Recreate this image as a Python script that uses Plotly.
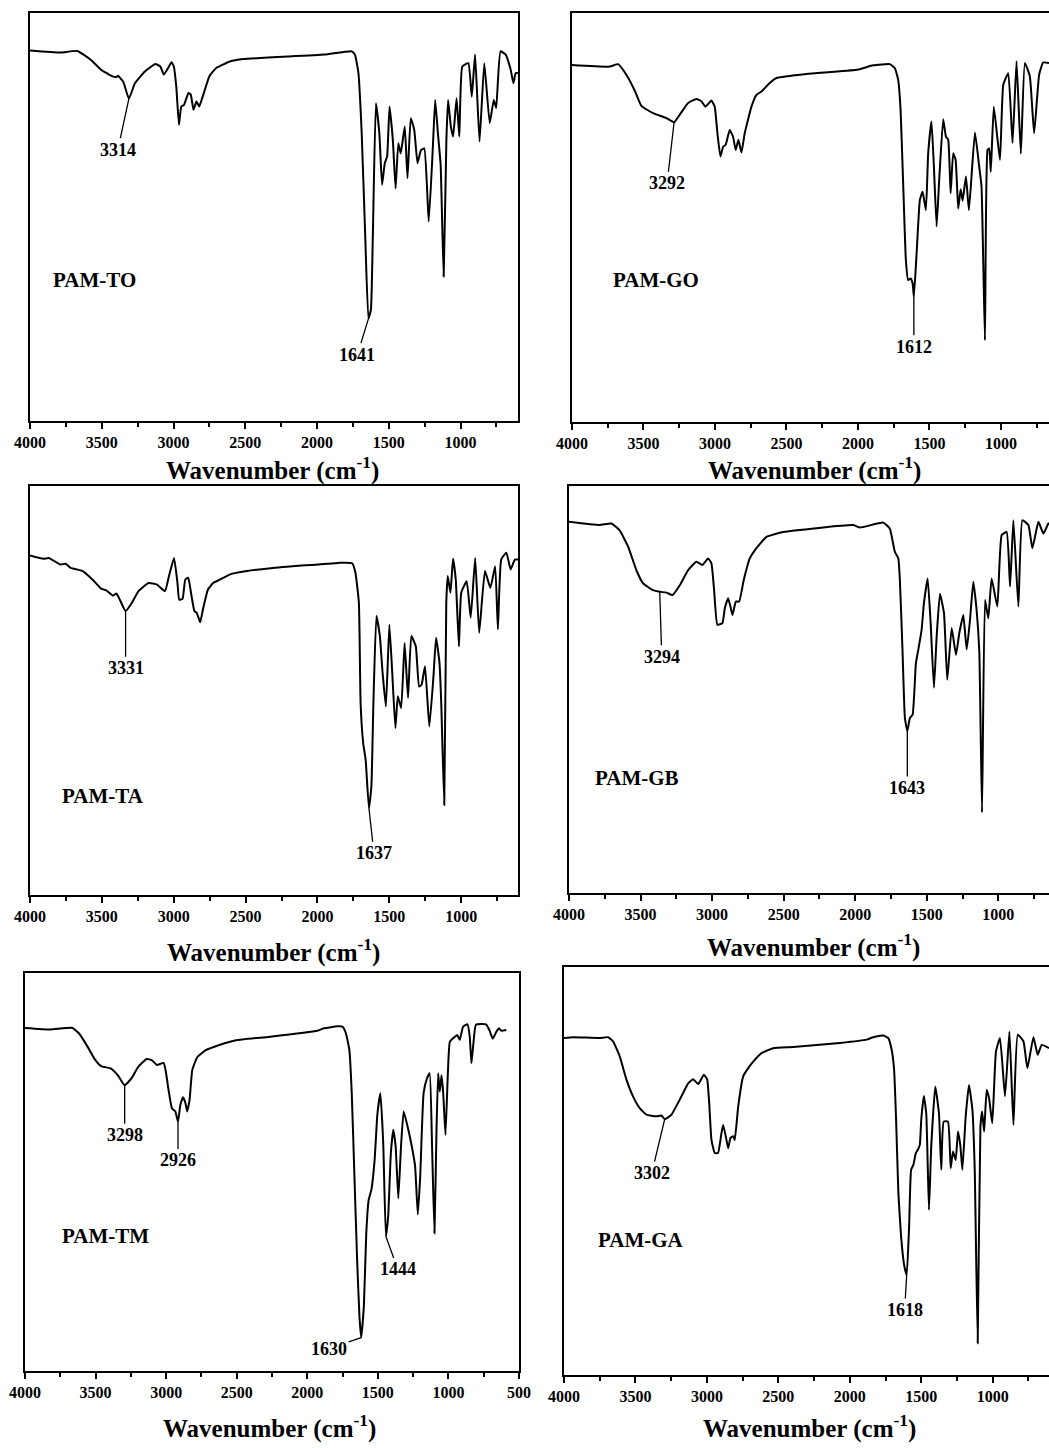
import numpy as np
import plotly.graph_objects as go

# ---------------- data ----------------
TO_wn = [4000, 3788, 3670, 3575, 3505, 3434, 3399, 3387, 3351, 3311, 3269, 3198, 3127, 3092, 3068, 3038, 3014, 2998,
         2981, 2962, 2946, 2927, 2896, 2880, 2861, 2840, 2821, 2797, 2750, 2703, 2608, 2514, 1948, 1759, 1736, 1712,
         1689, 1665, 1642, 1625, 1611, 1590, 1566, 1547, 1528, 1512, 1495, 1472, 1453, 1434, 1417, 1389, 1370, 1347,
         1323, 1300, 1276, 1253, 1222, 1193, 1177, 1158, 1139, 1118, 1099, 1087, 1068, 1052, 1028, 1009, 988, 946,
         922, 899, 868, 835, 797, 769, 752, 722, 686, 651, 632, 616, 600]
TO_T = [90.8, 90.3, 90.7, 88.5, 86.1, 84.6, 84.3, 84.6, 83.2, 79.0, 82.8, 85.7, 87.5, 86.9, 84.9, 86.5, 87.9, 86.9,
        82.0, 72.6, 77.1, 77.5, 80.4, 80.0, 76.3, 78.3, 77.1, 79.5, 84.5, 86.5, 88.1, 88.7, 89.8, 90.6, 89.8, 85.3,
        70.5, 46.0, 25.1, 27.2, 46.0, 77.9, 70.5, 57.9, 63.2, 64.8, 77.1, 68.9, 57.0, 68.1, 65.6, 72.2, 59.5, 74.2,
        71.4, 63.2, 66.4, 66.8, 48.9, 67.3, 78.7, 70.5, 62.8, 35.4, 68.9, 78.7, 72.2, 69.7, 79.1, 69.7, 86.9, 87.7,
        79.5, 89.8, 68.5, 87.7, 73.0, 78.7, 76.7, 90.6, 89.8, 86.1, 82.8, 85.3, 85.3]

GO_wn = [4000, 3736, 3678, 3620, 3561, 3515, 3433, 3340, 3286, 3247, 3188, 3130, 3095, 3067, 3025, 3002, 2983, 2962,
         2943, 2925, 2897, 2874, 2855, 2836, 2815, 2792, 2745, 2710, 2675, 2617, 2570, 2360, 2010, 1894, 1777, 1742,
         1719, 1702, 1684, 1665, 1649, 1632, 1618, 1609, 1590, 1567, 1548, 1525, 1509, 1486, 1469, 1450, 1432, 1404,
         1385, 1369, 1352, 1334, 1317, 1299, 1282, 1268, 1245, 1224, 1182, 1152, 1136, 1112, 1094, 1082, 1071, 1050,
         1007, 984, 949, 919, 891, 861, 833, 798, 768, 733, 705, 664]
GO_T = [87.3, 86.9, 87.5, 84.9, 81.0, 77.3, 75.5, 74.3, 73.3, 75.1, 78.0, 79.0, 78.4, 77.1, 78.6, 77.1, 70.6, 64.9,
        67.3, 67.8, 71.4, 69.8, 66.5, 69.0, 65.9, 70.6, 77.1, 80.0, 80.8, 82.9, 84.1, 85.1, 86.1, 87.2, 87.5, 86.5,
        83.7, 76.3, 58.4, 39.6, 34.7, 35.1, 33.9, 30.6, 41.2, 54.3, 56.3, 51.8, 65.7, 73.5, 62.4, 47.8, 59.2, 74.0,
        69.8, 69.0, 55.9, 65.7, 64.1, 52.2, 56.9, 54.1, 60.0, 51.8, 70.8, 62.4, 57.6, 20.0, 66.5, 66.9, 61.2, 77.1,
        64.1, 82.4, 85.3, 68.2, 88.2, 65.6, 87.8, 84.5, 70.6, 84.9, 87.9, 87.8]

TA_wn = [4000, 3906, 3870, 3788, 3752, 3717, 3634, 3564, 3505, 3469, 3422, 3399, 3375, 3335, 3292, 3245, 3175, 3116,
         3061, 3033, 2998, 2974, 2962, 2939, 2920, 2899, 2880, 2856, 2840, 2816, 2797, 2762, 2726, 2679, 2608, 2491,
         2325, 1854, 1759, 1736, 1712, 1700, 1682, 1665, 1642, 1625, 1611, 1590, 1566, 1547, 1524, 1500, 1481, 1458,
         1441, 1418, 1394, 1370, 1347, 1316, 1293, 1276, 1252, 1222, 1193, 1175, 1151, 1139, 1118, 1104, 1094, 1075,
         1057, 1038, 1016, 1000, 962, 934, 903, 875, 835, 797, 764, 745, 722, 686, 656, 627, 605]
TA_T = [83.0, 82.2, 82.4, 80.8, 81.0, 80.0, 79.2, 77.1, 74.9, 74.5, 73.2, 73.7, 72.2, 69.4, 71.4, 74.3, 76.3, 75.9,
        74.3, 78.0, 82.4, 76.3, 72.2, 72.4, 77.1, 77.6, 73.9, 69.4, 69.0, 66.7, 69.8, 74.7, 76.3, 77.1, 78.4, 79.2,
        79.9, 81.2, 81.1, 78.8, 71.4, 46.9, 37.1, 33.1, 21.2, 26.5, 46.9, 68.2, 63.3, 54.3, 46.1, 66.1, 55.1, 40.8,
        48.6, 45.7, 61.6, 48.2, 63.3, 60.8, 51.0, 51.4, 55.9, 41.2, 53.5, 62.9, 56.7, 46.9, 22.0, 71.4, 78.0, 73.9,
        82.2, 77.1, 60.8, 73.9, 76.7, 67.8, 82.4, 64.1, 79.2, 75.1, 80.4, 65.0, 82.0, 83.7, 79.6, 82.0, 82.0]

GB_wn = [4000, 3786, 3704, 3646, 3587, 3529, 3483, 3413, 3366, 3319, 3277, 3226, 3168, 3110, 3068, 3028, 3005, 2986,
         2963, 2928, 2911, 2888, 2872, 2858, 2834, 2811, 2779, 2737, 2702, 2620, 2503, 2014, 1967, 1804, 1758, 1723,
         1699, 1688, 1669, 1653, 1636, 1618, 1599, 1576, 1559, 1536, 1520, 1494, 1473, 1450, 1431, 1408, 1380, 1357,
         1326, 1296, 1273, 1245, 1221, 1198, 1175, 1152, 1133, 1114, 1093, 1070, 1047, 1007, 977, 942, 918, 895, 860,
         832, 790, 762, 720, 685, 650, 640]
GB_T = [91.2, 90.4, 90.8, 89.1, 85.1, 79.3, 76.1, 74.4, 74.0, 73.8, 73.2, 75.6, 79.3, 81.4, 80.6, 82.2, 81.0, 74.4,
        65.9, 66.3, 70.0, 72.4, 70.4, 68.3, 71.6, 71.6, 76.9, 82.2, 84.2, 87.5, 88.7, 90.4, 89.8, 91.0, 89.5, 83.8,
        82.2, 76.9, 58.9, 43.0, 39.8, 43.0, 43.8, 56.5, 59.8, 64.7, 71.2, 77.3, 66.3, 50.4, 63.0, 73.5, 68.8, 52.4,
        65.1, 58.5, 63.8, 68.3, 59.8, 67.1, 76.5, 69.6, 59.3, 19.8, 72.0, 67.5, 77.3, 70.4, 87.9, 88.7, 75.3, 91.6,
        70.4, 91.6, 90.4, 84.7, 91.2, 88.3, 90.8, 90.8]

TM_wn = [4000, 3820, 3665, 3617, 3557, 3509, 3461, 3390, 3342, 3294, 3246, 3198, 3138, 3102, 3066, 3018, 3002, 2983,
         2959, 2935, 2916, 2899, 2880, 2863, 2851, 2834, 2815, 2779, 2719, 2623, 2504, 2264, 1929, 1882, 1786, 1750,
         1726, 1702, 1685, 1666, 1647, 1630, 1618, 1599, 1582, 1565, 1546, 1523, 1503, 1482, 1462, 1443, 1427, 1408,
         1391, 1374, 1355, 1336, 1317, 1284, 1255, 1236, 1217, 1200, 1176, 1152, 1133, 1116, 1099, 1085, 1073, 1061,
         1049, 1037, 1021, 1004, 990, 961, 937, 920, 896, 865, 849, 837, 823, 805, 733, 709, 686, 661, 642, 626, 590]
TM_T = [86.2, 85.8, 86.2, 84.8, 81.5, 78.5, 76.6, 76.0, 74.3, 71.8, 73.5, 76.4, 78.4, 78.1, 76.9, 77.4, 75.2, 70.6,
        66.0, 65.2, 62.7, 66.9, 68.8, 67.3, 65.2, 68.1, 75.6, 78.9, 80.6, 81.9, 83.1, 84.0, 85.5, 86.1, 86.6, 86.5,
        84.8, 80.7, 69.8, 48.9, 28.0, 13.4, 8.4, 16.4, 34.7, 43.0, 45.5, 53.0, 64.7, 69.8, 57.3, 33.8, 38.8, 54.7,
        60.6, 56.4, 43.4, 56.4, 65.2, 60.6, 55.6, 51.4, 39.3, 48.9, 69.8, 73.5, 74.8, 56.4, 34.6, 59.7, 74.8, 70.2,
        74.3, 69.8, 59.3, 74.8, 82.7, 83.8, 84.4, 83.2, 86.5, 87.1, 84.0, 77.3, 82.3, 87.0, 87.1, 85.6, 83.5, 85.2,
        86.1, 85.5, 85.7]

GA_wn = [4000, 3937, 3750, 3692, 3657, 3610, 3563, 3517, 3470, 3423, 3353, 3318, 3295, 3248, 3190, 3131, 3096, 3061,
         3021, 2998, 2984, 2968, 2945, 2922, 2898, 2886, 2863, 2851, 2835, 2816, 2805, 2781, 2746, 2711, 2676, 2618,
         2536, 2396, 2069, 1882, 1836, 1766, 1731, 1707, 1690, 1676, 1660, 1641, 1620, 1602, 1585, 1571, 1555, 1538,
         1524, 1510, 1500, 1482, 1465, 1446, 1430, 1402, 1376, 1360, 1343, 1313, 1294, 1278, 1259, 1243, 1226, 1212,
         1189, 1166, 1142, 1126, 1105, 1086, 1074, 1060, 1042, 1024, 1003, 977, 949, 914, 883, 855, 825, 785, 757,
         715, 685, 657, 606]
GA_T = [82.6, 82.8, 82.6, 82.8, 81.8, 78.1, 72.4, 68.3, 65.4, 63.8, 63.4, 63.6, 62.7, 63.8, 67.5, 71.5, 72.5, 71.3,
        73.6, 72.4, 66.7, 57.6, 54.4, 54.4, 59.3, 61.3, 57.6, 55.6, 58.1, 58.5, 57.6, 65.8, 73.2, 75.2, 76.8, 78.9,
        80.1, 80.4, 81.4, 82.2, 82.8, 83.2, 82.6, 79.7, 74.8, 62.6, 44.6, 33.9, 27.0, 24.5, 36.3, 50.3, 51.5, 54.4,
        55.2, 56.4, 62.6, 68.4, 64.1, 40.5, 56.0, 70.7, 64.1, 50.3, 62.1, 62.1, 50.7, 54.8, 52.7, 59.7, 56.1, 50.3,
        63.4, 71.1, 65.0, 50.7, 7.8, 60.9, 64.6, 59.7, 69.9, 67.5, 61.7, 79.3, 82.6, 68.3, 84.2, 61.3, 83.4, 81.8,
        75.2, 82.8, 78.5, 80.9, 80.1]

# peak labels: text and the wavenumber where the leader line meets the curve
TO_peaks, TO_peak_at = ["3314", "1641"], [3311, 1642]
GO_peaks, GO_peak_at = ["3292", "1612"], [3286, 1609]
TA_peaks, TA_peak_at = ["3331", "1637"], [3335, 1642]
GB_peaks, GB_peak_at = ["3294", "1643"], [3366, 1636]
TM_peaks, TM_peak_at = ["3298", "2926", "1444", "1630"], [3294, 2916, 1443, 1618]
GA_peaks, GA_peak_at = ["3302", "1618"], [3295, 1602]

sample_names = ["PAM-TO", "PAM-GO", "PAM-TA", "PAM-GB", "PAM-TM", "PAM-GA"]
tick_values = [500, 1000, 1500, 2000, 2500, 3000, 3500, 4000]

# ---------------- layout ----------------
W, H = 1049, 1448
FONT = "Liberation Serif, Times New Roman, serif"

series = [
    (TO_wn, TO_T, TO_peaks, TO_peak_at),
    (GO_wn, GO_T, GO_peaks, GO_peak_at),
    (TA_wn, TA_T, TA_peaks, TA_peak_at),
    (GB_wn, GB_T, GB_peaks, GB_peak_at),
    (TM_wn, TM_T, TM_peaks, TM_peak_at),
    (GA_wn, GA_T, GA_peaks, GA_peak_at),
]

panels = [
    dict(l=30, r=518, t=13, b=421, xend=600, rb=True, title=(272, 469), lab=(3552, 34.5),
         offs=[(-11, 51), (-11, 36)]),
    dict(l=572, r=1049, t=13, b=422, xend=664, rb=False, title=(814, 469), lab=(3410, 34.7),
         offs=[(-7, 61), (0, 50)]),
    dict(l=30, r=518, t=486, b=895, xend=605, rb=True, title=(273, 951), lab=(3493, 24.2),
         offs=[(0, 57), (5, 45)]),
    dict(l=569, r=1049, t=486, b=893, xend=646, rb=False, title=(813, 945), lab=(3522, 28.3),
         offs=[(2, 65), (0, 57)]),
    dict(l=25, r=519, t=973, b=1371, xend=500, rb=True, title=(269, 1426), lab=(3430, 33.8),
         offs=[(0, 50), (0, 39), (12, 33), (-32, 11)]),
    dict(l=564, r=1049, t=967, b=1375, xend=606, rb=False, title=(809, 1426), lab=(3463, 33.1),
         offs=[(-13, 54), (-2, 35)]),
]

fig = go.Figure()
annotations = []
layout_axes = {}

for i, ((wn, T, peaks, peak_at), p, name) in enumerate(zip(series, panels, sample_names)):
    n = i + 1
    xa = "x" if n == 1 else f"x{n}"
    ya = "y" if n == 1 else f"y{n}"
    fig.add_trace(go.Scatter(x=wn, y=T, mode="lines", xaxis=xa, yaxis=ya,
                             line=dict(color="black", width=2, shape="spline", smoothing=0.4),
                             showlegend=False, hoverinfo="skip"))
    layout_axes["xaxis" if n == 1 else f"xaxis{n}"] = dict(
        domain=[p["l"] / W, p["r"] / W], anchor=ya, range=[4000, p["xend"]], autorange=False,
        automargin=False,
        tickvals=tick_values, ticks="outside", ticklen=6, tickwidth=2, tickcolor="black",
        minor=dict(dtick=250, tick0=0, ticks="outside", ticklen=4, tickwidth=2, tickcolor="black", showgrid=False),
        showline=True, linecolor="black", linewidth=2, mirror=True, showgrid=False, zeroline=False,
        tickfont=dict(family=FONT, size=16, color="black", weight="bold"),
    )
    layout_axes["yaxis" if n == 1 else f"yaxis{n}"] = dict(
        domain=[1 - p["b"] / H, 1 - p["t"] / H], anchor=xa, range=[0, 100], autorange=False,
        automargin=False,
        showticklabels=False, ticks="", showgrid=False, zeroline=False,
        showline=True, linecolor="black", linewidth=2, mirror=p["rb"],
    )
    annotations.append(dict(x=p["lab"][0], y=p["lab"][1], xref=xa, yref=ya, text=f"<b>{name}</b>",
                            showarrow=False, font=dict(family=FONT, size=21, color="black"),
                            xanchor="center", yanchor="middle"))
    wn_arr = np.array(wn, dtype=float)[::-1]
    T_arr = np.array(T, dtype=float)[::-1]
    for txt, at, (dx, dy) in zip(peaks, peak_at, p["offs"]):
        yv = float(np.interp(at, wn_arr, T_arr))
        annotations.append(dict(x=at, y=yv, xref=xa, yref=ya, text=f"<b>{txt}</b>",
                                showarrow=True, arrowhead=0, arrowwidth=1.3, arrowcolor="black",
                                standoff=0, ax=dx, ay=dy,
                                font=dict(family=FONT, size=18, color="black")))
    annotations.append(dict(x=p["title"][0] / W, y=1 - p["title"][1] / H, xref="paper", yref="paper",
                            text="<b>Wavenumber (cm<sup>-1</sup>)</b>", showarrow=False,
                            font=dict(family=FONT, size=25, color="black"),
                            xanchor="center", yanchor="middle"))

fig.update_layout(
    width=W, height=H, margin=dict(l=0, r=0, t=0, b=0, pad=0, autoexpand=False),
    paper_bgcolor="white", plot_bgcolor="white",
    showlegend=False, annotations=annotations, **layout_axes,
)

fig.write_html(
    "out.html",
    config={"displayModeBar": False},
    post_script="document.body.style.margin='0';document.body.style.padding='0';"
                "document.body.style.overflow='hidden';",
)
